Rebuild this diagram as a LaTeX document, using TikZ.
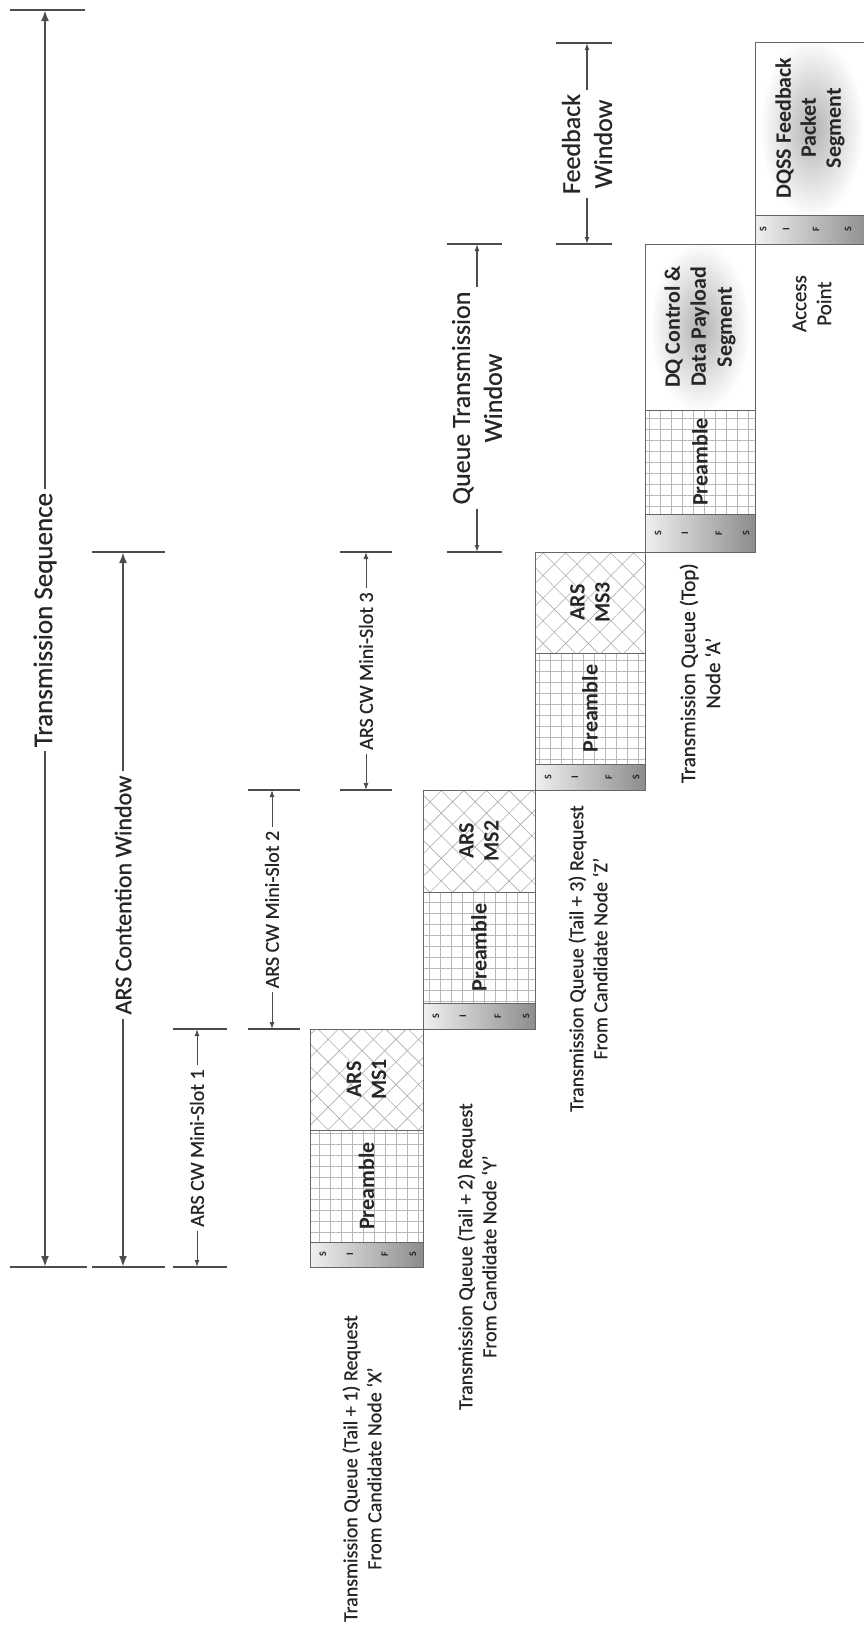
\documentclass[tikz,border=0pt]{standalone}
\usepackage{fontspec}
\setmainfont{Carlito}
\newfontfamily\labfont{Carlito}[FakeBold=0.6]
\usetikzlibrary{patterns.meta,arrows.meta}
\begin{document}
\begin{tikzpicture}[x=1pt,y=-1pt,
  tickline/.style={draw=black!70,line width=1.8pt},
  bigdim/.style={draw=black!70,line width=2.2pt,-{Latex[length=11pt,width=8pt]}},
  smalldim/.style={draw=black!70,line width=1pt,-{Latex[length=7pt,width=5pt]}},
  boxedge/.style={draw=black!60,line width=0.9pt},
  gridfill/.style={pattern={Hatch[angle=0,distance=11pt,line width=0.5pt]},pattern color=black!28},
  crossfill/.style={pattern={Hatch[angle=45,distance=16pt,line width=0.6pt]},pattern color=black!32},
  vtext/.style={rotate=90,text=black!85,inner sep=3pt},
  boxtxt/.style={vtext,font=\fontsize{22}{25}\selectfont\bfseries,align=center},
  qlab/.style={vtext,font=\labfont\fontsize{20}{24}\selectfont,align=center,anchor=east},
  sifs/.style={vtext,font=\fontsize{10}{10}\selectfont\bfseries,inner sep=0pt},
  dimlab/.style={vtext,inner sep=4pt},
  mslab/.style={vtext,font=\labfont\fontsize{20}{22}\selectfont,inner sep=4pt},
]
\useasboundingbox (0,0) rectangle (864,1639);

% ---------- Box 1 ----------
\draw[boxedge,crossfill] (310,1029) rectangle (423,1130);
\draw[boxedge,gridfill] (310,1130) rectangle (423,1242);
\shade[left color=black!6,right color=black!45] (310,1242) rectangle (423,1267);
\draw[boxedge] (310,1242) rectangle (423,1267);
\node[boxtxt] (ms1) at (366.5,1079.5) {ARS\\MS1};
\node[boxtxt] (pre1) at (366.5,1186) {Preamble};
\node[sifs] (b1s1) at (323,1254.5) {S};
\node[sifs] (b1i) at (350,1254.5) {I};
\node[sifs] (b1f) at (385,1254.5) {F};
\node[sifs] (b1s2) at (413,1254.5) {S};
\node[qlab] (q1) at (362,1312) {Transmission Queue (Tail + 1) Request\\From Candidate Node ‘X’};

% ---------- Box 2 ----------
\draw[boxedge,crossfill] (423,790) rectangle (535,892);
\draw[boxedge,gridfill] (423,892) rectangle (535,1003);
\shade[left color=black!6,right color=black!45] (423,1003) rectangle (535,1029);
\draw[boxedge] (423,1003) rectangle (535,1029);
\node[boxtxt] (ms2) at (479,841) {ARS\\MS2};
\node[boxtxt] (pre2) at (479,947.5) {Preamble};
\node[sifs] (b2s1) at (436,1016) {S};
\node[sifs] (b2i) at (463,1016) {I};
\node[sifs] (b2f) at (498,1016) {F};
\node[sifs] (b2s2) at (526,1016) {S};
\node[qlab] (q2) at (477,1100) {Transmission Queue (Tail + 2) Request\\From Candidate Node ‘Y’};

% ---------- Box 3 ----------
\draw[boxedge,crossfill] (535,552) rectangle (645,653);
\draw[boxedge,gridfill] (535,653) rectangle (645,764);
\shade[left color=black!6,right color=black!45] (535,764) rectangle (645,790);
\draw[boxedge] (535,764) rectangle (645,790);
\node[boxtxt] (ms3) at (590,602.5) {ARS\\MS3};
\node[boxtxt] (pre3) at (590,708.5) {Preamble};
\node[sifs] (b3s1) at (548,777) {S};
\node[sifs] (b3i) at (575,777) {I};
\node[sifs] (b3f) at (609,777) {F};
\node[sifs] (b3s2) at (636,777) {S};
\node[qlab] (q3) at (588,802) {Transmission Queue (Tail + 3) Request\\From Candidate Node ‘Z’};

% ---------- Box 4 ----------
\fill[white] (645,244) rectangle (755,410);
\begin{scope}
\clip (645,244) rectangle (755,410);
\shade[inner color=black!30,outer color=white] (700,327) ellipse [x radius=50pt,y radius=85pt];
\end{scope}
\draw[boxedge] (645,244) rectangle (755,410);
\draw[boxedge,gridfill] (645,410) rectangle (755,514);
\shade[left color=black!6,right color=black!45] (645,514) rectangle (755,552);
\draw[boxedge] (645,514) rectangle (755,552);
\node[boxtxt,font=\fontsize{22}{26}\selectfont\bfseries] (dq) at (700,327) {DQ Control \&\\Data Payload\\Segment};
\node[boxtxt] (pre4) at (700,462) {Preamble};
\node[sifs] (b4s1) at (658,533) {S};
\node[sifs] (b4i) at (685,533) {I};
\node[sifs] (b4f) at (719,533) {F};
\node[sifs] (b4s2) at (746,533) {S};
\node[qlab,font=\labfont\fontsize{21}{25}\selectfont] (q4) at (700,560) {Transmission Queue (Top)\\Node ‘A’};

% ---------- Box 5 ----------
\begin{scope}
\clip (755,42) rectangle (870,215);
\shade[inner color=black!30,outer color=white] (812,128) ellipse [x radius=52pt,y radius=90pt];
\end{scope}
\draw[boxedge] (755,42) rectangle (870,215);
\shade[left color=black!6,right color=black!45] (755,215) rectangle (870,244);
\draw[boxedge] (755,215) rectangle (870,244);
\node[boxtxt] (dqss) at (810,128) {DQSS Feedback\\Packet\\Segment};
\node[sifs] (b5s1) at (763,229.5) {S};
\node[sifs] (b5i) at (786,229.5) {I};
\node[sifs] (b5f) at (816,229.5) {F};
\node[sifs] (b5s2) at (848,229.5) {S};
\node[qlab,font=\labfont\fontsize{21}{25}\selectfont] (ap) at (812,272) {Access\\Point};

% ---------- Transmission Sequence ----------
\coordinate (tsT) at (45,10);
\coordinate (tsB) at (45,1267);
\draw[tickline] (10,10) -- (85,10);
\draw[tickline] (10,1267) -- (87,1267);
\node[dimlab,font=\labfont\fontsize{27}{30}\selectfont] (tsl) at (45,620) {Transmission Sequence};
\draw[bigdim] (tsl.east) -- (tsT);
\draw[bigdim] (tsl.west) -- (tsB);

% ---------- ARS Contention Window ----------
\coordinate (cwT) at (123,552);
\coordinate (cwB) at (123,1267);
\draw[tickline] (92,552) -- (165,552);
\draw[tickline] (92,1267) -- (165,1267);
\node[dimlab,font=\labfont\fontsize{24}{27}\selectfont] (cwl) at (123,895) {ARS Contention Window};
\draw[bigdim] (cwl.east) -- (cwT);
\draw[bigdim] (cwl.west) -- (cwB);

% ---------- Mini-slot 1 ----------
\coordinate (m1T) at (197,1029);
\coordinate (m1B) at (197,1267);
\draw[tickline,line width=1.2pt] (173,1029) -- (227,1029);
\draw[tickline,line width=1.2pt] (173,1267) -- (227,1267);
\node[mslab] (m1l) at (197,1148) {ARS CW Mini-Slot 1};
\draw[smalldim] (m1l.east) -- (m1T);
\draw[smalldim] (m1l.west) -- (m1B);

% ---------- Mini-slot 2 ----------
\coordinate (m2T) at (272,790);
\coordinate (m2B) at (272,1029);
\draw[tickline,line width=1.2pt] (248,790) -- (300,790);
\draw[tickline,line width=1.2pt] (248,1029) -- (300,1029);
\node[mslab] (m2l) at (272,909.5) {ARS CW Mini-Slot 2};
\draw[smalldim] (m2l.east) -- (m2T);
\draw[smalldim] (m2l.west) -- (m2B);

% ---------- Mini-slot 3 ----------
\coordinate (m3T) at (366,552);
\coordinate (m3B) at (366,790);
\draw[tickline,line width=1.2pt] (340,552) -- (392,552);
\draw[tickline,line width=1.2pt] (340,790) -- (392,790);
\node[mslab] (m3l) at (366,671) {ARS CW Mini-Slot 3};
\draw[smalldim] (m3l.east) -- (m3T);
\draw[smalldim] (m3l.west) -- (m3B);

% ---------- Queue Transmission Window ----------
\coordinate (qwT) at (477,244);
\coordinate (qwB) at (477,552);
\draw[tickline,line width=1.4pt] (447,244) -- (502,244);
\draw[tickline,line width=1.4pt] (447,552) -- (502,552);
\node[dimlab,font=\labfont\fontsize{26}{32}\selectfont,align=center] (qwl) at (477,398) {Queue Transmission\\Window};
\draw[smalldim,line width=1.3pt] (qwl.east) -- (qwT);
\draw[smalldim,line width=1.3pt] (qwl.west) -- (qwB);

% ---------- Feedback Window ----------
\coordinate (fwT) at (587,43);
\coordinate (fwB) at (587,244);
\draw[tickline,line width=1.4pt] (556,43) -- (612,43);
\draw[tickline,line width=1.4pt] (556,244) -- (612,244);
\node[dimlab,font=\labfont\fontsize{26}{32}\selectfont,align=center] (fwl) at (587,144) {Feedback\\Window};
\draw[smalldim,line width=1.3pt] (fwl.east) -- (fwT);
\draw[smalldim,line width=1.3pt] (fwl.west) -- (fwB);
\end{tikzpicture}
\end{document}
